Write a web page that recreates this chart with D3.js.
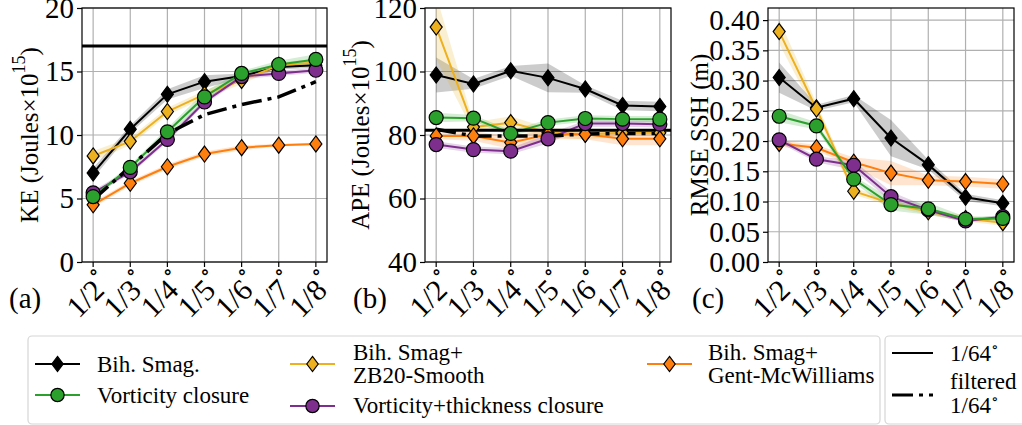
<!DOCTYPE html>
<html>
<head>
<meta charset="utf-8">
<script src="https://cdn.jsdelivr.net/npm/d3@7"></script>
<style>
  body { margin: 0; background: #fff; }
  text { font-family: "Liberation Serif", "DejaVu Serif", serif; fill: #000; }
</style>
</head>
<body>
<script>
// Data
var resolutions = ["1/2", "1/3", "1/4", "1/5", "1/6", "1/7", "1/8"];

// series order: Bih. Smag., ZB20-Smooth, Gent-McWilliams, Vorticity+thickness, Vorticity
var keBih    = [7.0, 10.45, 13.2, 14.2, 14.65, 15.35, 15.5];
var keZB     = [8.35, 9.5, 11.85, 13.2, 14.3, 15.5, 15.7];
var keGM     = [4.5, 6.2, 7.5, 8.5, 9.0, 9.2, 9.3];
var keVT     = [5.45, 7.1, 9.65, 12.6, 14.6, 14.85, 15.1];
var keV      = [5.15, 7.45, 10.25, 13.0, 14.85, 15.55, 15.95];
var keBihSd  = [0.4, 0.3, 0.4, 0.5, 0.2, 0.2, 0.2];
var keZBSd   = [0.4, 0.3, 0.3, 0.3, 0.3, 0.2, 0.3];
var keGMSd   = [0.2, 0.2, 0.2, 0.2, 0.2, 0.1, 0.1];
var keVTSd   = [0.2, 0.2, 0.2, 0.2, 0.2, 0.2, 0.2];
var keVSd    = [0.2, 0.2, 0.3, 0.4, 0.2, 0.3, 0.4];
var keRef = 17.0;
var keFiltered = [4.9, 7.5, 10.1, 11.6, 12.4, 13.0, 14.2];

var apeBih   = [98.9, 96.1, 100.2, 98.0, 94.5, 89.3, 89.0];
var apeZB    = [114.0, 82.5, 83.9, 80.7, 80.2, 80.7, 80.7];
var apeGM    = [79.7, 79.7, 77.6, 80.2, 80.2, 78.8, 78.8];
var apeVT    = [77.0, 75.4, 74.9, 78.8, 83.6, 83.6, 83.4];
var apeV     = [85.5, 85.3, 80.5, 83.9, 85.2, 85.0, 85.0];
var apeBihSd = [5.5, 1.5, 1.5, 4.5, 1.2, 1.5, 1.5];
var apeZBSd  = [10, 1.5, 2, 1.5, 1.5, 1, 1];
var apeGMSd  = [1, 1.5, 2, 1.5, 1.5, 2, 2];
var apeVTSd  = [1, 1, 1, 1.5, 1, 1, 1];
var apeVSd   = [1.5, 1, 1, 1, 1, 1, 1];
var apeRef = 81.5;
var apeFiltered = [81.8, 79.7, 79.7, 79.7, 80.3, 80.5, 80.5];

var sshBih   = [0.305, 0.255, 0.270, 0.205, 0.161, 0.107, 0.097];
var sshZB    = [0.381, 0.253, 0.117, 0.097, 0.083, 0.072, 0.065];
var sshGM    = [0.196, 0.189, 0.165, 0.147, 0.135, 0.133, 0.129];
var sshVT    = [0.202, 0.170, 0.160, 0.108, 0.086, 0.068, 0.075];
var sshV     = [0.241, 0.225, 0.137, 0.095, 0.088, 0.071, 0.072];
var sshBihSd = [0.025, 0.005, 0.006, 0.03, 0.008, 0.006, 0.005];
var sshZBSd  = [0.02, 0.01, 0.006, 0.005, 0.005, 0.005, 0.005];
var sshGMSd  = [0.005, 0.005, 0.008, 0.02, 0.008, 0.008, 0.008];
var sshVTSd  = [0.005, 0.005, 0.008, 0.008, 0.005, 0.003, 0.003];
var sshVSd   = [0.01, 0.006, 0.005, 0.01, 0.01, 0.004, 0.004];

var keTicks  = [0, 5, 10, 15, 20];
var apeTicks = [40, 60, 80, 100, 120];
var sshTicks = [0, 0.05, 0.10, 0.15, 0.20, 0.25, 0.30, 0.35, 0.40];

var legendLabels = [["Bih. Smag."], ["Bih. Smag+", "ZB20-Smooth"], ["Bih. Smag+", "Gent-McWilliams"],
                    ["Vorticity+thickness closure"], ["Vorticity closure"]];

// Styles
var styles = [
  { color: "#000000", band: "#000000", marker: "diamond" },
  { color: "#edb120", band: "#edb120", marker: "diamond" },
  { color: "#ff7f0e", band: "#ff7f0e", marker: "diamond" },
  { color: "#7e2f8e", band: "#7e2f8e", marker: "circle" },
  { color: "#2ca02c", band: "#2ca02c", marker: "circle" }
];

var svg = d3.select("body").append("svg")
  .attr("width", 1022)
  .attr("height", 425);

var diamondPath = "M0,-8L6,0L0,8L-6,0Z";

function drawMarker(g, x, y, st, scale) {
  scale = scale || 1;
  if (st.marker === "diamond") {
    g.append("path")
      .attr("d", diamondPath)
      .attr("transform", "translate(" + x + "," + y + ") scale(" + scale + ")")
      .attr("fill", st.color)
      .attr("stroke", "#000")
      .attr("stroke-width", 1.2 / scale);
  } else {
    g.append("circle")
      .attr("cx", x).attr("cy", y).attr("r", 7 * scale)
      .attr("fill", st.color)
      .attr("stroke", "#000")
      .attr("stroke-width", 1.2);
  }
}

function drawPanel(p, idx) {
  var x = d3.scaleLinear().domain([-0.3, 6.3]).range([p.left, p.right]);
  var y = d3.scaleLinear().domain(p.domain).range([p.bottom, p.top]);
  var g = svg.append("g");

  // grid
  g.selectAll(".gx").data(d3.range(resolutions.length)).enter().append("line")
    .attr("x1", d => x(d)).attr("x2", d => x(d))
    .attr("y1", p.top).attr("y2", p.bottom)
    .attr("stroke", "#b0b0b0").attr("stroke-width", 1.2);
  g.selectAll(".gy").data(p.ticks).enter().append("line")
    .attr("x1", p.left).attr("x2", p.right)
    .attr("y1", d => y(d)).attr("y2", d => y(d))
    .attr("stroke", "#b0b0b0").attr("stroke-width", 1.2);

  var clipId = "clip" + idx;
  svg.append("clipPath").attr("id", clipId).append("rect")
    .attr("x", p.left).attr("y", p.top)
    .attr("width", p.right - p.left).attr("height", p.bottom - p.top);

  var plot = g.append("g").attr("clip-path", "url(#" + clipId + ")");

  // bands
  p.series.forEach(function(vals, k) {
    var sd = p.spreads[k];
    var area = d3.area()
      .x((d, i) => x(i))
      .y0((d, i) => y(d - sd[i]))
      .y1((d, i) => y(d + sd[i]));
    plot.append("path").datum(vals)
      .attr("d", area)
      .attr("fill", styles[k].band)
      .attr("opacity", 0.2);
  });

  // lines
  var line = d3.line().x((d, i) => x(i)).y(d => y(d));
  p.series.forEach(function(vals, k) {
    plot.append("path").datum(vals)
      .attr("d", line)
      .attr("fill", "none")
      .attr("stroke", styles[k].color)
      .attr("stroke-width", 2);
  });

  // reference lines
  if (p.ref !== undefined) {
    plot.append("line")
      .attr("x1", p.left).attr("x2", p.right)
      .attr("y1", y(p.ref)).attr("y2", y(p.ref))
      .attr("stroke", "#000").attr("stroke-width", 3);
  }
  if (p.filtered) {
    plot.append("path").datum(p.filtered)
      .attr("d", line)
      .attr("fill", "none")
      .attr("stroke", "#000")
      .attr("stroke-width", 3.5)
      .attr("stroke-dasharray", "20,6,4,6");
  }

  // markers
  p.series.forEach(function(vals, k) {
    vals.forEach(function(v, i) {
      if (v <= p.domain[1]) drawMarker(plot, x(i), y(v), styles[k]);
    });
  });

  // frame
  g.append("rect")
    .attr("x", p.left).attr("y", p.top)
    .attr("width", p.right - p.left).attr("height", p.bottom - p.top)
    .attr("fill", "none").attr("stroke", "#000").attr("stroke-width", 1.2);

  // y axis
  var yAxis = d3.axisLeft(y).tickValues(p.ticks).tickSize(5).tickPadding(3).tickFormat(p.format);
  var ya = g.append("g").attr("transform", "translate(" + p.left + ",0)").call(yAxis);
  ya.attr("font-family", null);
  ya.select(".domain").remove();
  ya.selectAll("line").attr("stroke", "#000").attr("stroke-width", 1.2);
  ya.selectAll("text").attr("font-size", 29);

  // x ticks
  g.selectAll(".xt").data(d3.range(resolutions.length)).enter().append("line")
    .attr("x1", d => x(d)).attr("x2", d => x(d))
    .attr("y1", p.bottom).attr("y2", p.bottom + 5)
    .attr("stroke", "#000").attr("stroke-width", 1.2);
  var xl = g.selectAll(".xl").data(resolutions).enter().append("text")
    .attr("transform", (d, i) => "translate(" + (x(i) - 5) + "," + (p.bottom + 32) + ") rotate(-45)")
    .attr("text-anchor", "middle")
    .attr("dominant-baseline", "central")
    .attr("font-size", 30);
  xl.append("tspan").text(d => d);
  xl.append("tspan").attr("font-size", 21).attr("dy", -12).text("\u2218");

  // y label
  var lab = g.append("text")
    .attr("transform", "translate(" + (p.left - p.labelOffset) + "," + ((p.top + p.bottom) / 2) + ") rotate(-90)")
    .attr("text-anchor", "middle")
    .attr("dominant-baseline", "central")
    .attr("font-size", 25);
  lab.append("tspan").text(p.label[0]);
  if (p.label.length > 1) {
    lab.append("tspan").attr("font-size", 18).attr("dy", -10).text(p.label[1]);
    lab.append("tspan").attr("dy", 10).text(p.label[2]);
  }

  // panel letter
  g.append("text")
    .attr("x", p.left - p.letterOffset).attr("y", 308)
    .attr("font-size", 29)
    .text(p.letter);
}

var panels = [
  { left: 82, right: 327, top: 8, bottom: 262, domain: [0, 20], ticks: keTicks, format: d3.format("d"),
    label: ["KE (Joules\u00d710", "15", ")"], labelOffset: 53, letter: "(a)", letterOffset: 73,
    series: [keBih, keZB, keGM, keVT, keV], spreads: [keBihSd, keZBSd, keGMSd, keVTSd, keVSd],
    ref: keRef, filtered: keFiltered },
  { left: 425, right: 671, top: 8, bottom: 262, domain: [40, 120], ticks: apeTicks, format: d3.format("d"),
    label: ["APE (Joules\u00d710", "15", ")"], labelOffset: 65, letter: "(b)", letterOffset: 72,
    series: [apeBih, apeZB, apeGM, apeVT, apeV], spreads: [apeBihSd, apeZBSd, apeGMSd, apeVTSd, apeVSd],
    ref: apeRef, filtered: apeFiltered },
  { left: 768, right: 1014, top: 8, bottom: 262, domain: [0, 0.42], ticks: sshTicks, format: d3.format(".2f"),
    label: ["RMSE SSH (m)"], labelOffset: 69, letter: "(c)", letterOffset: 76,
    series: [sshBih, sshZB, sshGM, sshVT, sshV], spreads: [sshBihSd, sshZBSd, sshGMSd, sshVTSd, sshVSd] }
];

panels.forEach(drawPanel);

// Legend
var leg = svg.append("g");
leg.append("rect").attr("x", 28).attr("y", 336).attr("width", 852).attr("height", 88)
  .attr("rx", 4).attr("fill", "#fff").attr("stroke", "#d6d6d6").attr("stroke-width", 1.2);
leg.append("rect").attr("x", 885).attr("y", 336).attr("width", 160).attr("height", 88)
  .attr("rx", 4).attr("fill", "#fff").attr("stroke", "#d6d6d6").attr("stroke-width", 1.2);

var legendSlots = [
  { k: 0, hx: 35, hy: 364, tx: 97, ty: [372] },
  { k: 4, hx: 35, hy: 395, tx: 97, ty: [403] },
  { k: 1, hx: 290, hy: 364, tx: 353, ty: [360, 383] },
  { k: 3, hx: 290, hy: 406, tx: 353, ty: [413] },
  { k: 2, hx: 647, hy: 364, tx: 708, ty: [360, 383] }
];
legendSlots.forEach(function(s) {
  var st = styles[s.k];
  leg.append("line").attr("x1", s.hx).attr("x2", s.hx + 45)
    .attr("y1", s.hy).attr("y2", s.hy)
    .attr("stroke", st.color).attr("stroke-width", 2);
  drawMarker(leg, s.hx + 22.5, s.hy, st, 0.95);
  legendLabels[s.k].forEach(function(t, j) {
    leg.append("text").attr("x", s.tx).attr("y", s.ty[j]).attr("font-size", 23).text(t);
  });
});

leg.append("line").attr("x1", 892).attr("x2", 933).attr("y1", 353).attr("y2", 353)
  .attr("stroke", "#000").attr("stroke-width", 2);
var t1 = leg.append("text").attr("x", 950).attr("y", 361).attr("font-size", 23);
t1.append("tspan").text("1/64");
t1.append("tspan").attr("font-size", 15).attr("dy", -9).text("\u2218");

leg.append("line").attr("x1", 892).attr("x2", 933).attr("y1", 395).attr("y2", 395)
  .attr("stroke", "#000").attr("stroke-width", 3)
  .attr("stroke-dasharray", "21,6,4,6");
leg.append("text").attr("x", 950).attr("y", 389).attr("font-size", 23).text("filtered");
var t2 = leg.append("text").attr("x", 950).attr("y", 413).attr("font-size", 23);
t2.append("tspan").text("1/64");
t2.append("tspan").attr("font-size", 15).attr("dy", -9).text("\u2218");
</script>
</body>
</html>
